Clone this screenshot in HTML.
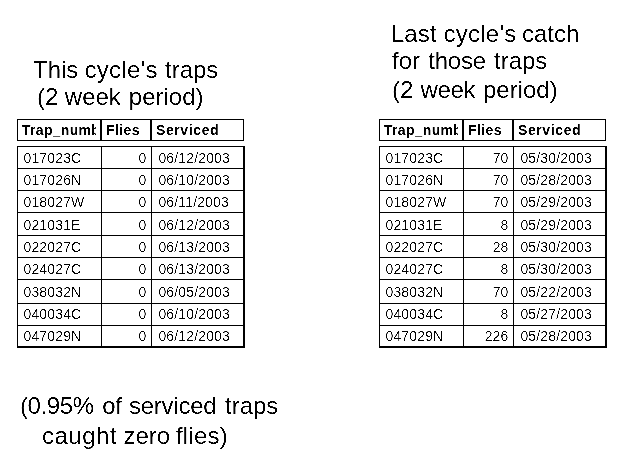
<!DOCTYPE html>
<html><head><meta charset="utf-8"><title>Traps</title>
<style>
html,body{margin:0;padding:0;background:#fff;}
body{width:624px;height:467px;position:relative;overflow:hidden;font-family:"Liberation Sans",sans-serif;color:#000;}
.t{position:absolute;left:0;font-size:24px;line-height:27px;white-space:pre;height:27px;width:624px}
.t span{position:absolute;top:0}
.hdr{position:absolute;width:227px;height:22px;border:1px solid #000;box-sizing:border-box;font-weight:bold;font-size:14px;}
.hc{position:absolute;top:0;height:20px;line-height:20px;box-sizing:border-box;border-right:2px solid #000;padding-left:4px;white-space:nowrap;letter-spacing:0.3px}
.hc span{display:block;overflow:hidden;height:20px}
.tbl{position:absolute;width:228px;height:202px;box-sizing:border-box;border-left:1px solid #000;border-top:1px solid #000;border-right:2px solid #000;border-bottom:2px solid #000;font-size:14px;letter-spacing:0.15px;}
.row{position:absolute;left:0;width:224px;height:16px;line-height:16px}
.ln{position:absolute;left:0;width:225px;height:1px;background:#000}
.vl{position:absolute;top:0;height:199px;width:1px;background:#000}
.c{position:absolute;top:0;height:100%;box-sizing:border-box;white-space:nowrap;}
.c1{left:0;width:84px;padding-left:5.5px;}
.c2{left:84px;width:50px;text-align:right;padding-right:5.5px;}
.c3{left:134px;width:90px;padding-left:6.4px;}
.hc span{filter:url(#th)}
.t{filter:url(#th3)}
.row{filter:url(#th2)}
</style></head><body>
<svg width="0" height="0" style="position:absolute" aria-hidden="true"><filter id="th" x="0" y="0" width="100%" height="100%" color-interpolation-filters="sRGB"><feComponentTransfer><feFuncA type="table" tableValues="0 0 1 1"/></feComponentTransfer></filter><filter id="th2" x="0" y="0" width="100%" height="100%" color-interpolation-filters="sRGB"><feComponentTransfer><feFuncA type="table" tableValues="0 0 0 0 0 0 0.5 1 1 1 1"/></feComponentTransfer></filter><filter id="th3" x="0" y="0" width="100%" height="100%" color-interpolation-filters="sRGB"><feComponentTransfer><feFuncA type="table" tableValues="0 0 0 0 0 0 0 0 0 0 0.25 0.5 0.75 1 1 1 1 1 1 1 1"/></feComponentTransfer></filter></svg>
<div class="t" style="top:56px"><span style="left:33px">This</span> <span style="left:84.5px;letter-spacing:0.3px">cycle's</span> <span style="left:165px">traps</span></div>
<div class="t" style="top:83px"><span style="left:37px">(2</span> <span style="left:64.8px">week</span> <span style="left:128.8px">period)</span></div>
<div class="t" style="top:20px"><span style="left:391px">Last</span> <span style="left:443.6px;letter-spacing:0.23px">cycle's</span> <span style="left:522px">catch</span></div>
<div class="t" style="top:47px"><span style="left:392px">for</span> <span style="left:428.3px;letter-spacing:-0.25px">those</span> <span style="left:494px">traps</span></div>
<div class="t" style="top:76px"><span style="left:392px">(2</span> <span style="left:420.6px;letter-spacing:-0.4px">week</span> <span style="left:483px">period)</span></div>
<div class="t" style="top:392px"><span style="left:20px;letter-spacing:-0.4px">(0.95%</span> <span style="left:102.3px;letter-spacing:-0.3px">of</span> <span style="left:129px;letter-spacing:-0.24px">serviced</span> <span style="left:225px">traps</span></div>
<div class="t" style="top:422px"><span style="left:42px;letter-spacing:0.5px">caught</span> <span style="left:123.4px">zero</span> <span style="left:176px;letter-spacing:0.2px">flies)</span></div>
<div class="hdr" style="left:17px;top:119px;"><div class="hc" style="left:0;width:84px"><span style="width:74px">Trap_numb</span></div><div class="hc" style="left:84px;width:50px"><span style="letter-spacing:0.4px">Flies</span></div><div class="hc" style="left:134px;width:91px;border-right:0"><span style="letter-spacing:0.6px">Serviced</span></div></div>
<div class="tbl" style="left:17px;top:146px;">
<div class="ln" style="top:21px"></div>
<div class="ln" style="top:43px"></div>
<div class="ln" style="top:65px"></div>
<div class="ln" style="top:88px"></div>
<div class="ln" style="top:110px"></div>
<div class="ln" style="top:132px"></div>
<div class="ln" style="top:156px"></div>
<div class="ln" style="top:178px"></div>
<div class="vl" style="left:83px"></div><div class="vl" style="left:133px"></div>
<div class="row" style="top:3px"><div class="c c1">017023C</div><div class="c c2">0</div><div class="c c3">06/12/2003</div></div>
<div class="row" style="top:25px"><div class="c c1">017026N</div><div class="c c2">0</div><div class="c c3">06/10/2003</div></div>
<div class="row" style="top:47px"><div class="c c1">018027W</div><div class="c c2">0</div><div class="c c3">06/11/2003</div></div>
<div class="row" style="top:70px"><div class="c c1">021031E</div><div class="c c2">0</div><div class="c c3">06/12/2003</div></div>
<div class="row" style="top:92px"><div class="c c1">022027C</div><div class="c c2">0</div><div class="c c3">06/13/2003</div></div>
<div class="row" style="top:114px"><div class="c c1">024027C</div><div class="c c2">0</div><div class="c c3">06/13/2003</div></div>
<div class="row" style="top:137px"><div class="c c1">038032N</div><div class="c c2">0</div><div class="c c3">06/05/2003</div></div>
<div class="row" style="top:159px"><div class="c c1">040034C</div><div class="c c2">0</div><div class="c c3">06/10/2003</div></div>
<div class="row" style="top:181px"><div class="c c1">047029N</div><div class="c c2">0</div><div class="c c3">06/12/2003</div></div>
</div>
<div class="hdr" style="left:379px;top:119px;"><div class="hc" style="left:0;width:84px"><span style="width:74px">Trap_numb</span></div><div class="hc" style="left:84px;width:50px"><span style="letter-spacing:0.4px">Flies</span></div><div class="hc" style="left:134px;width:91px;border-right:0"><span style="letter-spacing:0.6px">Serviced</span></div></div>
<div class="tbl" style="left:379px;top:146px;">
<div class="ln" style="top:21px"></div>
<div class="ln" style="top:43px"></div>
<div class="ln" style="top:65px"></div>
<div class="ln" style="top:88px"></div>
<div class="ln" style="top:110px"></div>
<div class="ln" style="top:132px"></div>
<div class="ln" style="top:156px"></div>
<div class="ln" style="top:178px"></div>
<div class="vl" style="left:83px"></div><div class="vl" style="left:133px"></div>
<div class="row" style="top:3px"><div class="c c1">017023C</div><div class="c c2">70</div><div class="c c3">05/30/2003</div></div>
<div class="row" style="top:25px"><div class="c c1">017026N</div><div class="c c2">70</div><div class="c c3">05/28/2003</div></div>
<div class="row" style="top:47px"><div class="c c1">018027W</div><div class="c c2">70</div><div class="c c3">05/29/2003</div></div>
<div class="row" style="top:70px"><div class="c c1">021031E</div><div class="c c2">8</div><div class="c c3">05/29/2003</div></div>
<div class="row" style="top:92px"><div class="c c1">022027C</div><div class="c c2">28</div><div class="c c3">05/30/2003</div></div>
<div class="row" style="top:114px"><div class="c c1">024027C</div><div class="c c2">8</div><div class="c c3">05/30/2003</div></div>
<div class="row" style="top:137px"><div class="c c1">038032N</div><div class="c c2">70</div><div class="c c3">05/22/2003</div></div>
<div class="row" style="top:159px"><div class="c c1">040034C</div><div class="c c2">8</div><div class="c c3">05/27/2003</div></div>
<div class="row" style="top:181px"><div class="c c1">047029N</div><div class="c c2">226</div><div class="c c3">05/28/2003</div></div>
</div>
</body></html>
